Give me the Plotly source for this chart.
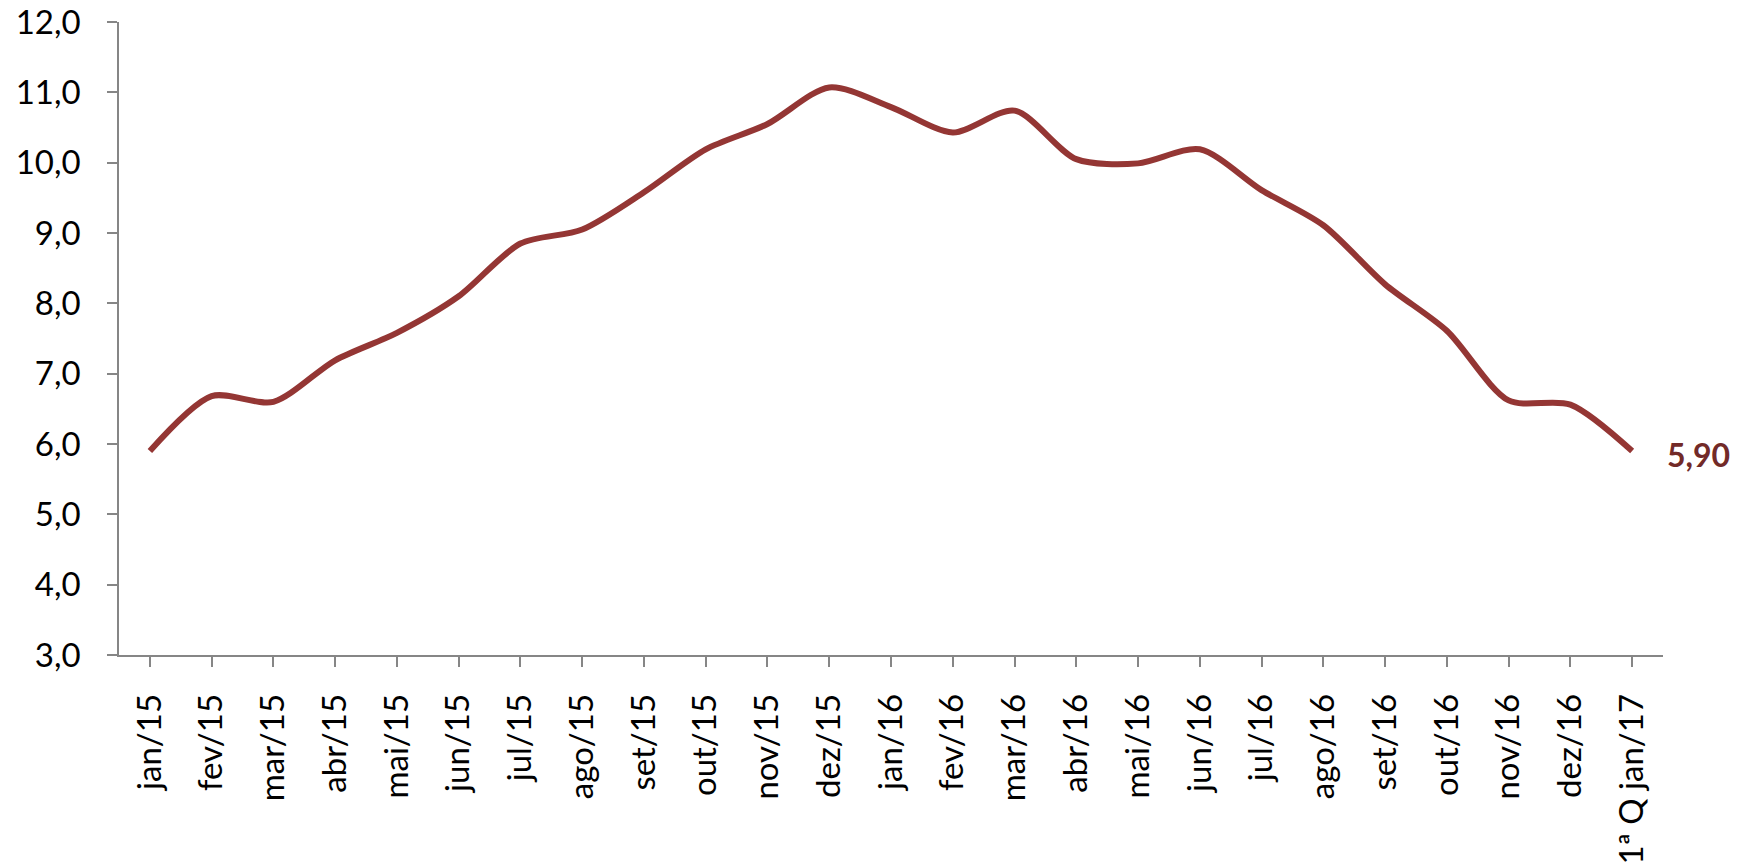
import plotly.graph_objects as go

categories = ["jan/15", "fev/15", "mar/15", "abr/15", "mai/15", "jun/15", "jul/15",
              "ago/15", "set/15", "out/15", "nov/15", "dez/15", "jan/16", "fev/16",
              "mar/16", "abr/16", "mai/16", "jun/16", "jul/16", "ago/16", "set/16",
              "out/16", "nov/16", "dez/16", "1ª Q jan/17"]
values = [5.90, 6.68, 6.60, 7.19, 7.58, 8.10, 8.85, 9.05, 9.58, 10.19, 10.55, 11.07,
          10.79, 10.43, 10.74, 10.05, 9.99, 10.19, 9.61, 9.11, 8.27, 7.61, 6.62, 6.56, 5.90]
y_ticks = [3, 4, 5, 6, 7, 8, 9, 10, 11, 12]
y_ticktext = ["3,0", "4,0", "5,0", "6,0", "7,0", "8,0", "9,0", "10,0", "11,0", "12,0"]
end_label = "5,90"

fig = go.Figure()
fig.add_trace(go.Scatter(
    x=list(range(len(categories))), y=values, mode="lines",
    line=dict(color="#943634", width=6, shape="spline", smoothing=0.8),
    hoverinfo="skip", showlegend=False,
))
fig.add_annotation(
    x=len(categories) - 1, y=values[-1], text="<b>" + end_label + "</b>",
    showarrow=False, xanchor="left", xshift=33, yshift=-3,
    font=dict(family="Lato", size=32, color="#722A28"),
)
fig.update_layout(
    template="none",
    width=1742, height=865,
    margin=dict(l=119, r=79, t=22, b=210, autoexpand=False),
    plot_bgcolor="white", paper_bgcolor="white",
    font=dict(family="Lato", size=34, color="#000000"),
)
fig.update_xaxes(
    range=[-0.5, len(categories) - 0.5], automargin=False,
    tickmode="array", tickvals=list(range(len(categories))), ticktext=categories,
    tickfont=dict(size=33),
    tickangle=-90, ticks="outside", ticklen=10, tickcolor="#868686", tickwidth=1.5,
    tickson="boundaries", ticklabelstandoff=14, ticklabeloverflow="allow",
    showline=True, linecolor="#868686", linewidth=1.5,
    showgrid=False, zeroline=False,
)
fig.update_yaxes(
    range=[3, 12], automargin=False,
    tickmode="array", tickvals=y_ticks, ticktext=y_ticktext,
    tickfont=dict(size=33),
    ticks="outside", ticklen=10, tickcolor="#868686", tickwidth=1.5,
    ticklabelstandoff=20, ticklabeloverflow="allow",
    showline=True, linecolor="#868686", linewidth=1.5,
    showgrid=False, zeroline=False,
)
fig.write_html("out.html", config={"displayModeBar": False},
               post_script="document.body.style.margin='0px';")
